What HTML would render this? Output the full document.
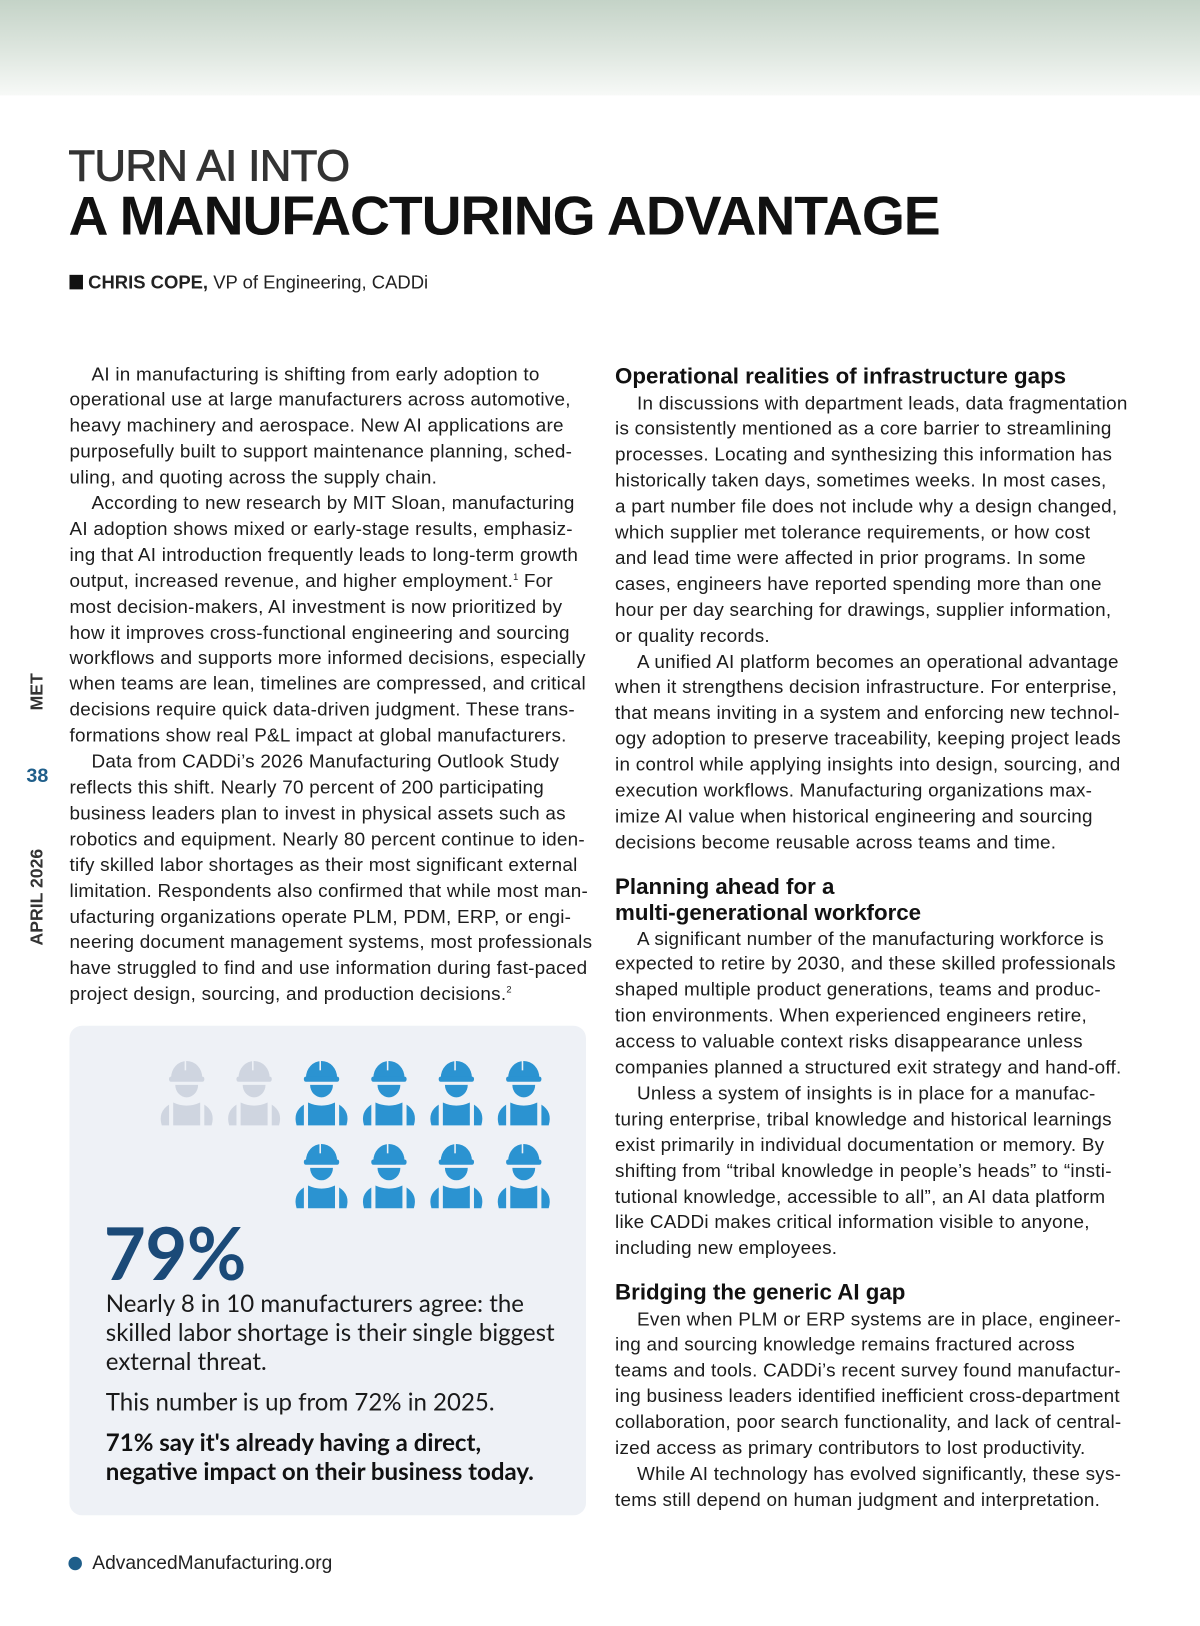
<!DOCTYPE html>
<html><head><meta charset="utf-8">
<style>
html,body{margin:0;padding:0;background:#fff;}
body{width:1200px;height:1626px;overflow:hidden;position:relative;}
#page{position:absolute;left:0;top:0;width:1157px;height:1568px;transform:scale(1.03716);transform-origin:0 0;font-family:"Liberation Sans",Arial,sans-serif;color:#1a1a1a;}
.abs{position:absolute;}
.txt{position:absolute;font-size:18.2px;line-height:24.9px;white-space:nowrap;color:#1c1c1c;letter-spacing:0.25px;}
.sup{font-size:9px;line-height:0;position:relative;top:-7px;vertical-align:baseline;letter-spacing:0;}
.h{position:absolute;font-size:21.5px;font-weight:bold;line-height:25px;white-space:nowrap;color:#111;}
.box{font-family:"Lato","Liberation Sans",sans-serif;}
</style></head>
<body>
<div id="page">
<div class="abs" style="left:0;top:0;width:1157px;height:92px;background:linear-gradient(#c4d3c7,#dfe7e0 55%,#f7f9f7);"></div>

<div class="abs" style="left:66px;top:136px;font-size:42px;line-height:48px;color:#333;white-space:nowrap;letter-spacing:-0.5px;-webkit-text-stroke:0.9px #333;">TURN AI INTO</div>
<div class="abs" style="left:66px;top:179px;font-size:53px;line-height:60px;font-weight:bold;color:#111;white-space:nowrap;letter-spacing:-1px;" id="t2">A MANUFACTURING ADVANTAGE</div>

<div class="abs" style="left:67px;top:261px;font-size:17.8px;line-height:22px;white-space:nowrap;color:#222;"><span style="display:inline-block;width:13px;height:14px;background:#111;vertical-align:-1px;margin-right:5px;"></span><b>CHRIS COPE,</b> VP of Engineering, CADDi</div>

<div class="abs" style="left:36px;top:667px;transform:translate(-50%,-50%) rotate(-90deg);font-weight:bold;font-size:17px;color:#333;">MET</div>
<div class="abs" style="left:36px;top:749px;transform:translate(-50%,-50%);font-weight:bold;font-size:19px;color:#1f5e8a;">38</div>
<div class="abs" style="left:36px;top:865px;transform:translate(-50%,-50%) rotate(-90deg);font-weight:bold;font-size:17px;color:#333;white-space:nowrap;">APRIL 2026</div>

<div class="txt" style="left:67px;top:348.5px;">&nbsp;&nbsp;&nbsp;&nbsp;AI in manufacturing is shifting from early adoption to<br>operational use at large manufacturers across automotive,<br>heavy machinery and aerospace. New AI applications are<br>purposefully built to support maintenance planning, sched-<br>uling, and quoting across the supply chain.<br>&nbsp;&nbsp;&nbsp;&nbsp;According to new research by MIT Sloan, manufacturing<br>AI adoption shows mixed or early-stage results, emphasiz-<br>ing that AI introduction frequently leads to long-term growth<br>output, increased revenue, and higher employment.<span class="sup">1</span> For<br>most decision-makers, AI investment is now prioritized by<br>how it improves cross-functional engineering and sourcing<br>workflows and supports more informed decisions, especially<br>when teams are lean, timelines are compressed, and critical<br>decisions require quick data-driven judgment. These trans-<br>formations show real P&amp;L impact at global manufacturers.<br>&nbsp;&nbsp;&nbsp;&nbsp;Data from CADDi’s 2026 Manufacturing Outlook Study<br>reflects this shift. Nearly 70 percent of 200 participating<br>business leaders plan to invest in physical assets such as<br>robotics and equipment. Nearly 80 percent continue to iden-<br>tify skilled labor shortages as their most significant external<br>limitation. Respondents also confirmed that while most man-<br>ufacturing organizations operate PLM, PDM, ERP, or engi-<br>neering document management systems, most professionals<br>have struggled to find and use information during fast-paced<br>project design, sourcing, and production decisions.<span class="sup">2</span></div>

<div class="h" style="left:593px;top:350.5px;">Operational realities of infrastructure gaps</div>
<div class="txt" style="left:593px;top:376.5px;">&nbsp;&nbsp;&nbsp;&nbsp;In discussions with department leads, data fragmentation<br>is consistently mentioned as a core barrier to streamlining<br>processes. Locating and synthesizing this information has<br>historically taken days, sometimes weeks. In most cases,<br>a part number file does not include why a design changed,<br>which supplier met tolerance requirements, or how cost<br>and lead time were affected in prior programs. In some<br>cases, engineers have reported spending more than one<br>hour per day searching for drawings, supplier information,<br>or quality records.<br>&nbsp;&nbsp;&nbsp;&nbsp;A unified AI platform becomes an operational advantage<br>when it strengthens decision infrastructure. For enterprise,<br>that means inviting in a system and enforcing new technol-<br>ogy adoption to preserve traceability, keeping project leads<br>in control while applying insights into design, sourcing, and<br>execution workflows. Manufacturing organizations max-<br>imize AI value when historical engineering and sourcing<br>decisions become reusable across teams and time.</div>

<div class="h" style="left:593px;top:842.5px;">Planning ahead for a<br>multi-generational workforce</div>
<div class="txt" style="left:593px;top:892.5px;">&nbsp;&nbsp;&nbsp;&nbsp;A significant number of the manufacturing workforce is<br>expected to retire by 2030, and these skilled professionals<br>shaped multiple product generations, teams and produc-<br>tion environments. When experienced engineers retire,<br>access to valuable context risks disappearance unless<br>companies planned a structured exit strategy and hand-off.<br>&nbsp;&nbsp;&nbsp;&nbsp;Unless a system of insights is in place for a manufac-<br>turing enterprise, tribal knowledge and historical learnings<br>exist primarily in individual documentation or memory. By<br>shifting from “tribal knowledge in people’s heads” to “insti-<br>tutional knowledge, accessible to all”, an AI data platform<br>like CADDi makes critical information visible to anyone,<br>including new employees.</div>

<div class="h" style="left:593px;top:1233.5px;">Bridging the generic AI gap</div>
<div class="txt" style="left:593px;top:1259.5px;">&nbsp;&nbsp;&nbsp;&nbsp;Even when PLM or ERP systems are in place, engineer-<br>ing and sourcing knowledge remains fractured across<br>teams and tools. CADDi’s recent survey found manufactur-<br>ing business leaders identified inefficient cross-department<br>collaboration, poor search functionality, and lack of central-<br>ized access as primary contributors to lost productivity.<br>&nbsp;&nbsp;&nbsp;&nbsp;While AI technology has evolved significantly, these sys-<br>tems still depend on human judgment and interpretation.</div>

<div class="abs box" style="left:67px;top:989px;width:498px;height:472px;background:#eef1f6;border-radius:12px;"></div>
<svg class="abs" id="icons" style="left:0;top:0;" width="1157" height="1568"></svg>

<div class="abs box" style="left:100px;top:1168px;font-size:70px;line-height:78px;font-weight:bold;color:#1b4a78;letter-spacing:-0.5px;">79%</div>
<div class="abs box" style="left:102px;top:1242px;font-size:23.2px;line-height:28px;color:#1a1a1a;white-space:nowrap;">Nearly 8 in 10 manufacturers agree: the<br>skilled labor shortage is their single biggest<br>external threat.</div>
<div class="abs box" style="left:102px;top:1337px;font-size:23.2px;line-height:28px;color:#1a1a1a;white-space:nowrap;">This number is up from 72% in 2025.</div>
<div class="abs box" style="left:102px;top:1377px;font-size:23.2px;line-height:27.5px;font-weight:bold;color:#111;white-space:nowrap;">71% say it's already having a direct,<br>negative impact on their business today.</div>

<div class="abs" style="left:66px;top:1501px;width:13px;height:13px;border-radius:50%;background:#1f5e8a;"></div>
<div class="abs" style="left:89px;top:1495px;font-size:18.5px;line-height:24px;color:#222;">AdvancedManufacturing.org</div>
</div>
<script>
const totalWorkers = 10;
const affectedWorkers = 8;
const rowCounts = [6, 4];
(function(){
  const svg = document.getElementById('icons');
  const NS = 'http://www.w3.org/2000/svg';
  const colX0 = 180, colStep = 65, rowY0 = 1022, rowStep = 80, cols = 6;
  let idx = 0;
  rowCounts.forEach((n, r) => {
    for (let k = 0; k < n; k++) {
      const col = cols - n + k;
      const cx = colX0 + col * colStep, y = rowY0 + r * rowStep;
      const color = idx < totalWorkers - affectedWorkers ? '#cfd5e0' : '#2b93d1';
      const g = document.createElementNS(NS, 'g');
      
      
      g.setAttribute('fill', color);
      g.setAttribute('transform', 'translate(' + cx + ',' + y + ')');
      g.innerHTML =
        '<path d="M-15 17 A15 16 0 0 1 15 17 Z"/>' +
        '<rect x="-17" y="16" width="34" height="5" rx="2"/>' +
        '<path d="M-11 24 L11 24 A11 12 0 0 1 -11 24 Z"/>' +
        '<path d="M-13 41 Q0 47 13 41 L13 63 L-13 63 Z"/>' +
        '<path d="M-17 43 L-17 63 L-24 63 Q-28 50 -17 43 Z"/>' +
        '<path d="M17 43 L17 63 L24 63 Q28 50 17 43 Z"/>';
      const cut = document.createElementNS(NS, 'rect');
      cut.setAttribute('x', '-2'); cut.setAttribute('y', '1');
      cut.setAttribute('width', '1.5'); cut.setAttribute('height', '9');
      cut.setAttribute('fill', '#eef1f6');
      g.appendChild(cut);
      svg.appendChild(g);
      idx++;
    }
  });
  const t2 = document.getElementById('t2');
  const w = t2.getBoundingClientRect().width / 1.03716;
  const target = 840;
  t2.style.transformOrigin = '0 0';
  t2.style.transform = 'scaleX(' + (target / w) + ')';
})();
</script>
</body></html>
